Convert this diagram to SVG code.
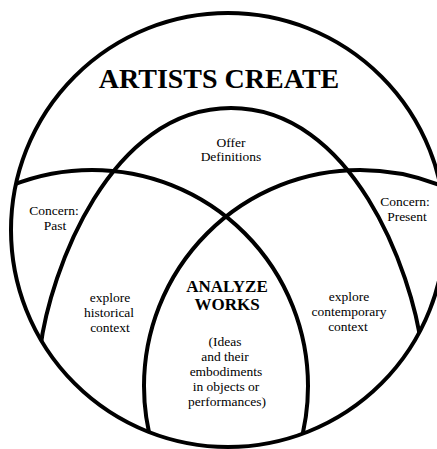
<svg xmlns="http://www.w3.org/2000/svg" width="437" height="449" viewBox="0 0 437 449">
<style>
.ln{fill:none;stroke:#000;stroke-width:4}
text{font-family:'Liberation Serif','DejaVu Serif','Noto Serif',serif;fill:#000;text-anchor:middle}
.big{font-size:28px;font-weight:bold}
.mid{font-size:17px;font-weight:bold}
.sm{font-size:13.5px}
</style>
<defs>
<clipPath id="inside"><circle cx="228" cy="230" r="217"/></clipPath>
</defs>
<rect width="437" height="449" fill="#fff"/>
<g id="connectors">
<circle class="ln" cx="228" cy="230" r="217"/>
<g clip-path="url(#inside)">
<circle class="ln" cx="92" cy="386" r="216"/>
<circle class="ln" cx="360" cy="386" r="216"/>
<path class="ln" d="M40,350 C50,270 110,108 231,108 C352,108 412,270 422,350"/>
</g>
</g>
<g id="artists-create"><text class="big" x="219" y="88" font-family="Liberation Serif, serif">ARTISTS CREATE</text></g>
<g id="offer-definitions"><text class="sm" x="231" y="147">Offer</text><text class="sm" x="231" y="161">Definitions</text></g>
<g id="concern-past"><text class="sm" x="54" y="215">Concern:</text><text class="sm" x="55" y="230">Past</text></g>
<g id="concern-present"><text class="sm" x="405" y="206">Concern:</text><text class="sm" x="407" y="221">Present</text></g>
<g id="explore-historical"><text class="sm" x="110" y="302">explore</text><text class="sm" x="109" y="317">historical</text><text class="sm" x="110" y="332">context</text></g>
<g id="explore-contemporary"><text class="sm" x="349" y="301">explore</text><text class="sm" x="349" y="316">contemporary</text><text class="sm" x="348" y="331">context</text></g>
<g id="analyze-works"><text class="mid" x="227" y="292">ANALYZE</text><text class="mid" x="227" y="310">WORKS</text>
<text class="sm" x="225" y="346">(Ideas</text><text class="sm" x="225" y="361">and their</text><text class="sm" x="226" y="376">embodiments</text><text class="sm" x="226" y="391">in objects or</text><text class="sm" x="227" y="406">performances)</text></g>
</svg>
